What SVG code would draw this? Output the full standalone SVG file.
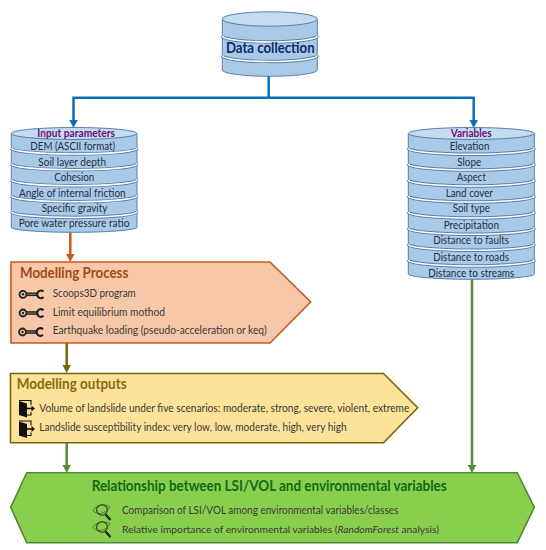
<svg xmlns="http://www.w3.org/2000/svg" width="546" height="550" viewBox="0 0 546 550">
<defs>
<marker id="ab" markerUnits="userSpaceOnUse" markerWidth="9" markerHeight="9" refX="4" refY="4" orient="auto" viewBox="0 0 8 8"><path d="M0 0L7.500 4L0 8Z" fill="context-stroke"/></marker>
<g id="wrench"><circle cx="0" cy="0" r="3.500" fill="none" stroke="#222" stroke-width="1.800"/><circle cx="0" cy="0" r="1.200" fill="#222"/><path d="M3.500 0H14" stroke="#222" stroke-width="3.600" fill="none"/><path d="M4 0H13" stroke="#8a8a80" stroke-width="0.900" fill="none"/><path d="M20.500 -2.800A3.800 3.800 0 1 0 20.500 2.800" fill="none" stroke="#222" stroke-width="2.200"/></g>
<g id="door"><path d="M0 1L8 3.500V17.500L0 15Z" fill="#111"/><path d="M0.500 1V0.500H12V5M12 12V15H8" fill="none" stroke="#111" stroke-width="1.100"/><path d="M8 8.500H13" stroke="#111" stroke-width="1.600"/><path d="M12.500 5.500L16 8.500L12.500 11.500Z" fill="#111"/></g>
<g id="lens"><path d="M-9 0.500C-6 -5 3 -7 8 -3C3 5 -6 5 -9 0.500Z" fill="none" stroke="#4d7a3a" stroke-width="1"/><ellipse cx="0" cy="0" rx="5.400" ry="5.200" fill="none" stroke="#2d3a2a" stroke-width="1.100"/><path d="M3.500 4.500L8.500 10" stroke="#222" stroke-width="2.200"/></g>
</defs>
<style>
text{font-family:"Lato","Carlito","Open Sans",sans-serif;fill:#24303f;text-anchor:middle}
.d{fill:#a9c9e8;stroke:#5b7fa8;stroke-width:1}
.t{fill:#c4dcf2;stroke:#5b7fa8;stroke-width:1}
.s1{fill:none;stroke:#5b7fa8;stroke-width:3.400}
.s2{fill:none;stroke:#fff;stroke-width:1.600}
.l{font-size:11.200px}
.h{font-size:11px;font-weight:700;fill:#6d0f7d}
.c{fill:none;stroke-width:2.500}
.m{font-size:10.800px;text-anchor:start;fill:#3a3a3a}
.b{font-size:14.500px;font-weight:700;text-anchor:start}
</style>
<g id="connectors">
<path class="c" stroke="#0b70b8" d="M268.700 76V98"/>
<path class="c" stroke="#0b70b8" marker-end="url(#ab)" d="M268.700 97.700H73.500V124"/>
<path class="c" stroke="#0b70b8" marker-end="url(#ab)" d="M268.700 97.700H473.700V124"/>
<path class="c" stroke="#c55a1c" marker-end="url(#ab)" d="M70.300 232V258"/>
<path class="c" stroke="#7a6408" marker-end="url(#ab)" d="M66.700 343V369"/>
<path class="c" stroke="#5a8a3c" marker-end="url(#ab)" d="M66.700 443V469"/>
<path class="c" stroke="#5a8a3c" marker-end="url(#ab)" d="M472 279V469"/>
</g>
<g id="n-data">
<path class="d" d="M222.300 19V70A47.500 6.300 0 0 0 317.300 70V19Z"/>
<path class="s1" d="M222.300 36A47.500 6 0 0 0 317.300 36M222.300 55.500A47.500 6 0 0 0 317.300 55.500"/>
<path class="s2" d="M222.300 36A47.500 6 0 0 0 317.300 36M222.300 55.500A47.500 6 0 0 0 317.300 55.500"/>
<ellipse class="t" cx="269.800" cy="19" rx="47.500" ry="7.200"/>
<text x="270.300" y="53.300" font-size="14.500" font-weight="700" textLength="88.700" lengthAdjust="spacingAndGlyphs" style="fill:#0f2a6b">Data collection</text>
</g>
<g id="n-input">
<path class="d" d="M11.300 133.500V227.500A62.900 5 0 0 0 137 227.500V133.500Z"/>
<path class="s1" d="M11.300 148.300A62.900 6 0 0 0 137 148.300M11.300 164A62.900 6 0 0 0 137 164M11.300 180A62.900 6 0 0 0 137 180M11.300 196A62.900 6 0 0 0 137 196M11.300 211.700A62.900 6 0 0 0 137 211.700"/>
<path class="s2" d="M11.300 148.300A62.900 6 0 0 0 137 148.300M11.300 164A62.900 6 0 0 0 137 164M11.300 180A62.900 6 0 0 0 137 180M11.300 196A62.900 6 0 0 0 137 196M11.300 211.700A62.900 6 0 0 0 137 211.700"/>
<ellipse class="t" cx="74.100" cy="133.500" rx="62.900" ry="6"/>
<text class="h" x="76.200" y="136.700" textLength="77.700" lengthAdjust="spacingAndGlyphs">Input parameters</text>
<text class="l" x="72.700" y="150" textLength="84.700" lengthAdjust="spacingAndGlyphs">DEM (ASCII format)</text>
<text class="l" x="72.200" y="165.700" textLength="67.700" lengthAdjust="spacingAndGlyphs">Soil layer depth</text>
<text class="l" x="74.300" y="181.300" textLength="40" lengthAdjust="spacingAndGlyphs">Cohesion</text>
<text class="l" x="72.300" y="196.700" textLength="106.700" lengthAdjust="spacingAndGlyphs">Angle of internal friction</text>
<text class="l" x="74.500" y="212" textLength="65.700" lengthAdjust="spacingAndGlyphs">Specific gravity</text>
<text class="l" x="74" y="227" textLength="110.700" lengthAdjust="spacingAndGlyphs">Pore water pressure ratio</text>
</g>
<g id="n-vars">
<path class="d" d="M408.300 133.500V274A63 5.300 0 0 0 534.300 274V133.500Z"/>
<path class="s1" d="M408.300 148.300A63 6 0 0 0 534.300 148.300M408.300 164A63 6 0 0 0 534.300 164M408.300 180A63 6 0 0 0 534.300 180M408.300 196A63 6 0 0 0 534.300 196M408.300 212A63 6 0 0 0 534.300 212M408.300 228.300A63 6 0 0 0 534.300 228.300M408.300 244.300A63 6 0 0 0 534.300 244.300M408.300 260A63 6 0 0 0 534.300 260"/>
<path class="s2" d="M408.300 148.300A63 6 0 0 0 534.300 148.300M408.300 164A63 6 0 0 0 534.300 164M408.300 180A63 6 0 0 0 534.300 180M408.300 196A63 6 0 0 0 534.300 196M408.300 212A63 6 0 0 0 534.300 212M408.300 228.300A63 6 0 0 0 534.300 228.300M408.300 244.300A63 6 0 0 0 534.300 244.300M408.300 260A63 6 0 0 0 534.300 260"/>
<ellipse class="t" cx="471.300" cy="133.500" rx="63" ry="6"/>
<text class="h" x="471.200" y="136.700" textLength="41" lengthAdjust="spacingAndGlyphs">Variables</text>
<text class="l" x="469.500" y="150" textLength="39.700" lengthAdjust="spacingAndGlyphs">Elevation</text>
<text class="l" x="469.200" y="165.700" textLength="23.700" lengthAdjust="spacingAndGlyphs">Slope</text>
<text class="l" x="471.300" y="181.300" textLength="29.300" lengthAdjust="spacingAndGlyphs">Aspect</text>
<text class="l" x="469.300" y="197" textLength="47.300" lengthAdjust="spacingAndGlyphs">Land cover</text>
<text class="l" x="471.300" y="212" textLength="37.300" lengthAdjust="spacingAndGlyphs">Soil type</text>
<text class="l" x="471.300" y="229" textLength="55.300" lengthAdjust="spacingAndGlyphs">Precipitation</text>
<text class="l" x="471.200" y="243.700" textLength="75.700" lengthAdjust="spacingAndGlyphs">Distance to faults</text>
<text class="l" x="471.200" y="260.700" textLength="75.700" lengthAdjust="spacingAndGlyphs">Distance to roads</text>
<text class="l" x="471.300" y="276.700" textLength="86" lengthAdjust="spacingAndGlyphs">Distance to streams</text>
</g>
<g id="n-process">
<path d="M11 262H270L310.700 302L270 343H11Z" fill="#f6c8a8" stroke="#c55a1c" stroke-width="1.600"/>
<text class="b" x="20" y="278.300" textLength="108.300" lengthAdjust="spacingAndGlyphs" style="fill:#a34a14">Modelling Process</text>
<use href="#wrench" x="23" y="294.300"/><use href="#wrench" x="23" y="313"/><use href="#wrench" x="22.500" y="332"/>
<text class="m" x="52.700" y="296.700" textLength="83" lengthAdjust="spacingAndGlyphs">Scoops3D program</text>
<text class="m" x="52.700" y="315.700" textLength="112.300" lengthAdjust="spacingAndGlyphs">Limit equilibrium mothod</text>
<text class="m" x="52.700" y="334.300" textLength="214" lengthAdjust="spacingAndGlyphs">Earthquake loading (pseudo-acceleration or keq)</text>
</g>
<g id="n-outputs">
<path d="M10.500 373.500H383.500L417.700 407.700L383.500 442.700H10.500Z" fill="#fde29a" stroke="#7a6408" stroke-width="1.600"/>
<text class="b" x="16.700" y="389.300" textLength="110" lengthAdjust="spacingAndGlyphs" style="fill:#8a6a10">Modelling outputs</text>
<use href="#door" x="19" y="400"/><use href="#door" x="19" y="420.500"/>
<text class="m" x="39.300" y="412" textLength="370" lengthAdjust="spacingAndGlyphs">Volume of landslide under five scenarios: moderate, strong, severe, violent, extreme</text>
<text class="m" x="39.300" y="431" textLength="307.300" lengthAdjust="spacingAndGlyphs">Landslide susceptibility index: very low, low, moderate, high, very high</text>
</g>
<g id="n-result">
<path d="M10.700 507.300L26.700 472.700H517.300L534.300 507.300L517.300 542.700H26.700Z" fill="#8ace4e" stroke="#4f8a38" stroke-width="1.600"/>
<text class="b" x="91.700" y="490.700" textLength="355" lengthAdjust="spacingAndGlyphs" style="fill:#0f6a18">Relationship between LSI/VOL and environmental variables</text>
<use href="#lens" x="102" y="510"/><use href="#lens" x="102" y="527"/>
<text class="m" x="122" y="514.300" textLength="276.300" lengthAdjust="spacingAndGlyphs">Comparison of LSI/VOL among environmental variables/classes</text>
<text class="m" x="122" y="533.300" style="font-size:10.250px">Relative importance of environmental variables (<tspan font-style="italic">RandomForest</tspan> analysis)</text>
</g>
</svg>
